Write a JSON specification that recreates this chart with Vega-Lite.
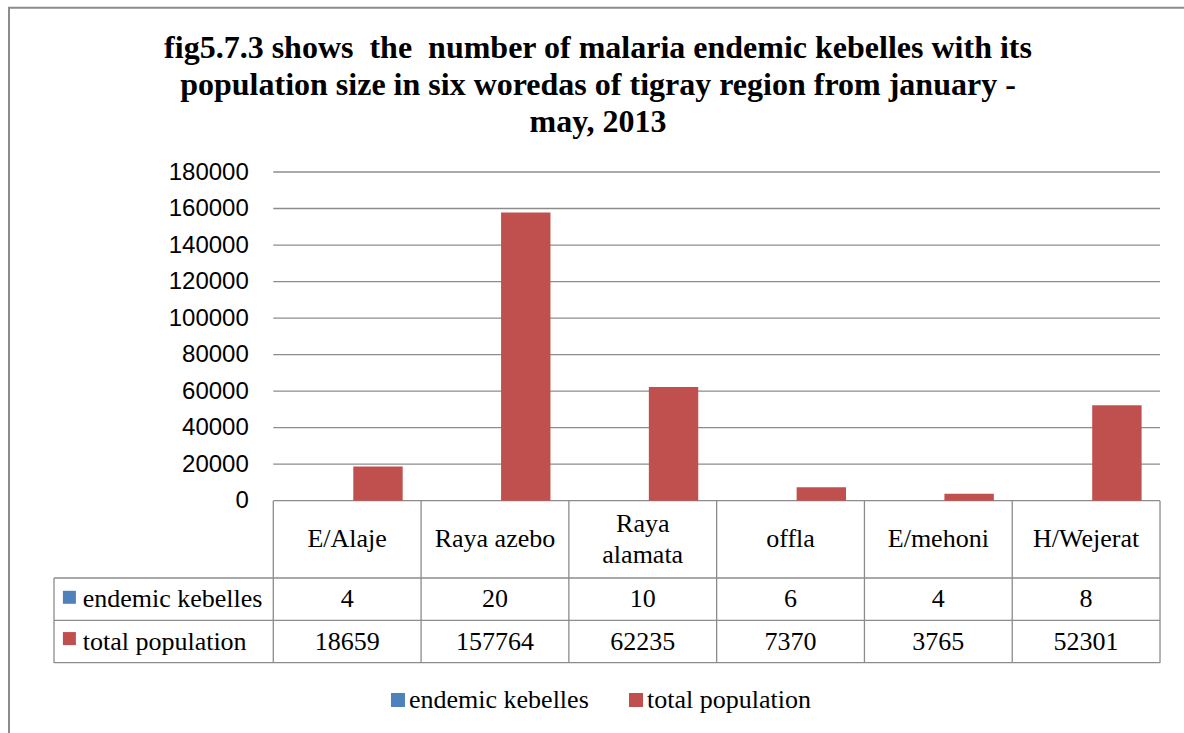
{
  "$schema": "https://vega.github.io/schema/vega-lite/v6.json",
  "autosize": {"type": "none"},
  "width": 1106,
  "height": 491,
  "padding": {"left": 54, "top": 172, "right": 24, "bottom": 70},
  "background": "white",
  "title": {
    "text": ["fig5.7.3 shows\u00a0 the\u00a0 number of malaria endemic kebelles with its", "population size in six woredas of tigray region from january -", "may, 2013"],
    "font": "Liberation Serif",
    "fontSize": 32,
    "fontWeight": "bold",
    "color": "#000000",
    "lineHeight": 37,
    "anchor": "middle",
    "frame": "group",
    "dx": -9,
    "offset": -132
  },
  "datasets": {
    "woredas": [
      {"woreda": "E/Alaje", "order": 1, "endemic kebelles": 4, "total population": 18659},
      {"woreda": "Raya azebo", "order": 2, "endemic kebelles": 20, "total population": 157764},
      {"woreda": "Raya\nalamata", "order": 3, "endemic kebelles": 10, "total population": 62235},
      {"woreda": "offla", "order": 4, "endemic kebelles": 6, "total population": 7370},
      {"woreda": "E/mehoni", "order": 5, "endemic kebelles": 4, "total population": 3765},
      {"woreda": "H/Wejerat", "order": 6, "endemic kebelles": 8, "total population": 52301}
    ],
    "ticks": [
      {"tick": 0}, {"tick": 20000}, {"tick": 40000}, {"tick": 60000}, {"tick": 80000},
      {"tick": 100000}, {"tick": 120000}, {"tick": 140000}, {"tick": 160000}, {"tick": 180000}
    ]
  },
  "data": {"name": "woredas"},
  "config": {"view": {"stroke": null}, "font": "Liberation Serif", "axisY": {"title": null}},
  "layer": [
    {
      "data": {"values": [{}]},
      "mark": {"type": "rect", "filled": false, "stroke": "#8c8c8c", "strokeWidth": 2, "fill": null},
      "encoding": {
        "x": {"datum": -1.2883, "type": "quantitative", "axis": null},
        "x2": {"datum": 7.6},
        "y": {"datum": 269967, "type": "quantitative"},
        "y2": {"datum": -200000}
      }
    },
    {
      "data": {"name": "ticks"},
      "mark": {"type": "rule", "color": "#8c8c8c", "strokeWidth": 1.3},
      "encoding": {
        "y": {
          "field": "tick", "type": "quantitative",
          "scale": {"domain": [-88880, 180000], "nice": false, "zero": false, "padding": 0},
          "axis": {
            "values": [0, 20000, 40000, 60000, 80000, 100000, 120000, 140000, 160000, 180000],
            "format": "d", "grid": false, "domain": false, "ticks": false, "tickSize": 0,
            "labelPadding": 25, "offset": -219.3, "title": null,
            "labelFont": "Liberation Sans", "labelFontSize": 24, "labelColor": "#000000"
          }
        },
        "x": {"datum": 0.5, "type": "quantitative", "scale": {"domain": [-0.9838, 6.5], "nice": false, "zero": false, "padding": 0}, "axis": null},
        "x2": {"datum": 6.5}
      }
    },
    {
      "mark": {"type": "rule", "color": "#8c8c8c", "strokeWidth": 1.3, "xOffset": 73.9},
      "encoding": {
        "x": {"field": "order", "type": "quantitative", "axis": null},
        "y": {"datum": 0, "type": "quantitative"},
        "y2": {"datum": -88880}
      }
    },
    {
      "data": {"values": [{}]},
      "mark": {"type": "rule", "color": "#8c8c8c", "strokeWidth": 1.3},
      "encoding": {
        "x": {"datum": 0.5, "type": "quantitative", "axis": null},
        "y": {"datum": 0, "type": "quantitative"},
        "y2": {"datum": -88880}
      }
    },
    {
      "data": {"values": [{}]},
      "mark": {"type": "rule", "color": "#8c8c8c", "strokeWidth": 1.3},
      "encoding": {
        "x": {"datum": -0.9838, "type": "quantitative", "axis": null},
        "y": {"datum": -42330, "type": "quantitative"},
        "y2": {"datum": -88880}
      }
    },
    {
      "data": {"values": [{}]},
      "mark": {"type": "rule", "color": "#8c8c8c", "strokeWidth": 1.3},
      "encoding": {
        "x": {"datum": -0.9838, "type": "quantitative", "axis": null},
        "x2": {"datum": 6.5},
        "y": {"datum": -42330, "type": "quantitative"}
      }
    },
    {
      "data": {"values": [{}]},
      "mark": {"type": "rule", "color": "#8c8c8c", "strokeWidth": 1.3},
      "encoding": {
        "x": {"datum": -0.9838, "type": "quantitative", "axis": null},
        "x2": {"datum": 6.5},
        "y": {"datum": -65550, "type": "quantitative"}
      }
    },
    {
      "data": {"values": [{}]},
      "mark": {"type": "rule", "color": "#8c8c8c", "strokeWidth": 1.3},
      "encoding": {
        "x": {"datum": -0.9838, "type": "quantitative", "axis": null},
        "x2": {"datum": 6.5},
        "y": {"datum": -88700, "type": "quantitative"}
      }
    },
    {
      "mark": {"type": "bar", "width": 49.4, "xOffset": -18.6},
      "encoding": {
        "x": {"field": "order", "type": "quantitative", "axis": null},
        "y": {"field": "endemic kebelles", "type": "quantitative"},
        "color": {
          "datum": "endemic kebelles",
          "scale": {"domain": ["endemic kebelles", "total population"], "range": ["#4F81BD", "#C0504D"]},
          "legend": {
            "orient": "none", "legendX": 331, "legendY": 515, "direction": "horizontal",
            "title": null, "symbolType": "square", "symbolSize": 196, "symbolStrokeWidth": 0,
            "labelFont": "Liberation Serif", "labelFontSize": 26, "labelColor": "#000000",
            "labelOffset": -2, "columnPadding": 34, "padding": 0, "labelLimit": 400
          }
        }
      }
    },
    {
      "mark": {"type": "bar", "width": 49.4, "xOffset": 30.8},
      "encoding": {
        "x": {"field": "order", "type": "quantitative", "axis": null},
        "y": {"field": "total population", "type": "quantitative"},
        "color": {"datum": "total population"}
      }
    },
    {
      "transform": [{"filter": "indexof(datum.woreda, '\\n') < 0"}],
      "mark": {"type": "text", "font": "Liberation Serif", "fontSize": 26, "baseline": "middle", "align": "center", "color": "#000000"},
      "encoding": {
        "x": {"field": "order", "type": "quantitative", "axis": null},
        "y": {"datum": -21140, "type": "quantitative"},
        "text": {"field": "woreda"}
      }
    },
    {
      "transform": [{"filter": "indexof(datum.woreda, '\\n') >= 0"}],
      "mark": {"type": "text", "font": "Liberation Serif", "fontSize": 26, "lineBreak": "\n", "lineHeight": 31, "baseline": "middle", "align": "center", "color": "#000000", "dy": -15.5},
      "encoding": {
        "x": {"field": "order", "type": "quantitative", "axis": null},
        "y": {"datum": -21140, "type": "quantitative"},
        "text": {"field": "woreda"}
      }
    },
    {
      "mark": {"type": "text", "font": "Liberation Serif", "fontSize": 26, "baseline": "middle", "align": "center", "color": "#000000"},
      "encoding": {
        "x": {"field": "order", "type": "quantitative", "axis": null},
        "y": {"datum": -53940, "type": "quantitative"},
        "text": {"field": "endemic kebelles"}
      }
    },
    {
      "mark": {"type": "text", "font": "Liberation Serif", "fontSize": 26, "baseline": "middle", "align": "center", "color": "#000000"},
      "encoding": {
        "x": {"field": "order", "type": "quantitative", "axis": null},
        "y": {"datum": -77210, "type": "quantitative"},
        "text": {"field": "total population"}
      }
    },
    {
      "data": {"values": [{}]},
      "mark": {"type": "text", "text": "endemic kebelles", "font": "Liberation Serif", "fontSize": 26, "baseline": "middle", "align": "left", "color": "#000000"},
      "encoding": {
        "x": {"datum": -0.7896, "type": "quantitative", "axis": null},
        "y": {"datum": -53940, "type": "quantitative"}
      }
    },
    {
      "data": {"values": [{}]},
      "mark": {"type": "text", "text": "total population", "font": "Liberation Serif", "fontSize": 26, "baseline": "middle", "align": "left", "color": "#000000"},
      "encoding": {
        "x": {"datum": -0.7896, "type": "quantitative", "axis": null},
        "y": {"datum": -77210, "type": "quantitative"}
      }
    },
    {
      "data": {"values": [{}]},
      "mark": {"type": "point", "shape": "square", "filled": true, "size": 169, "opacity": 1, "color": "#4F81BD"},
      "encoding": {
        "x": {"datum": -0.8796, "type": "quantitative", "axis": null},
        "y": {"datum": -52900, "type": "quantitative"}
      }
    },
    {
      "data": {"values": [{}]},
      "mark": {"type": "point", "shape": "square", "filled": true, "size": 169, "opacity": 1, "color": "#C0504D"},
      "encoding": {
        "x": {"datum": -0.8796, "type": "quantitative", "axis": null},
        "y": {"datum": -75500, "type": "quantitative"}
      }
    }
  ]
}
